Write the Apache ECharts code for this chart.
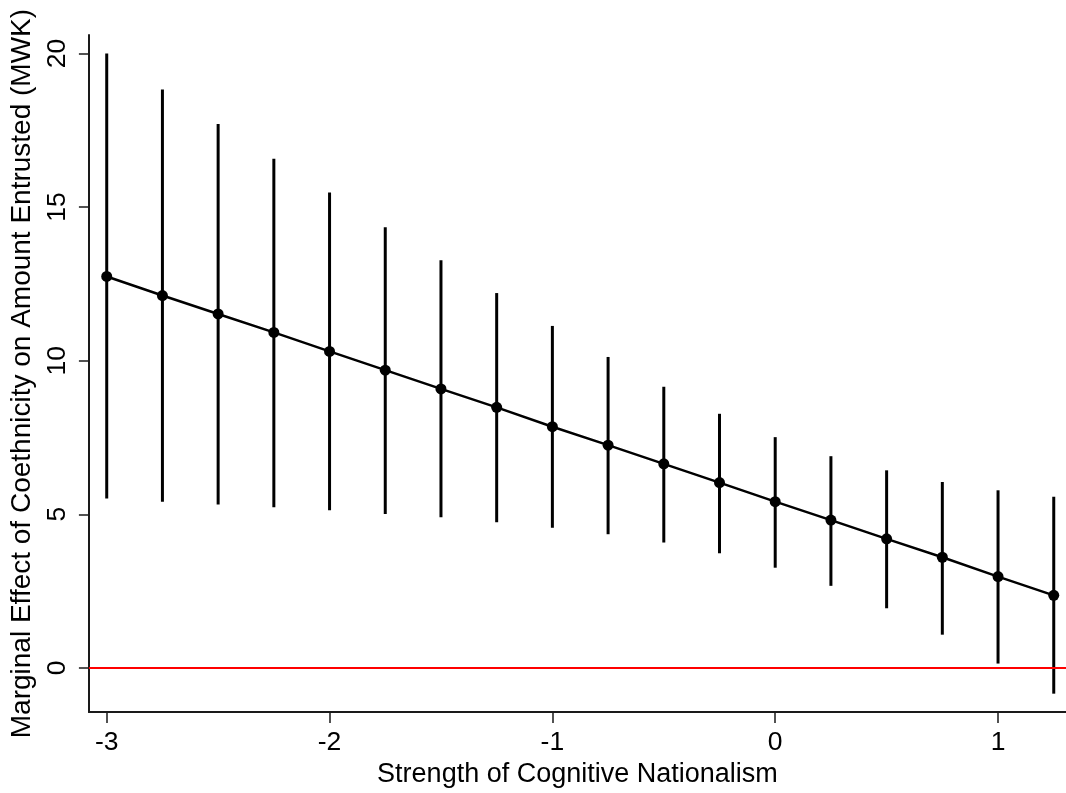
<!DOCTYPE html>
<html>
<head>
<meta charset="utf-8">
<script src="https://cdn.jsdelivr.net/npm/echarts@6/dist/echarts.min.js"></script>
<style>
html,body{margin:0;padding:0;background:#fff;}
#chart{width:1066px;height:793px;}
</style>
</head>
<body>
<div id="chart"></div>
<script>
const xValues  = [-3, -2.75, -2.5, -2.25, -2, -1.75, -1.5, -1.25, -1, -0.75, -0.5, -0.25, 0, 0.25, 0.5, 0.75, 1, 1.25];
const estimate = [12.74, 12.12, 11.52, 10.92, 10.30, 9.69, 9.08, 8.48, 7.85, 7.25, 6.64, 6.03, 5.41, 4.81, 4.20, 3.60, 2.97, 2.36];
const upper    = [20.00, 18.83, 17.70, 16.57, 15.47, 14.34, 13.27, 12.20, 11.13, 10.12, 9.15, 8.27, 7.51, 6.89, 6.43, 6.05, 5.78, 5.57];
const lower    = [5.51, 5.41, 5.32, 5.23, 5.13, 5.01, 4.90, 4.74, 4.56, 4.35, 4.08, 3.73, 3.26, 2.67, 1.94, 1.08, 0.14, -0.84];
const xTicks   = [-3, -2, -1, 0, 1];
const yTicks   = [0, 5, 10, 15, 20];
const xTitle   = 'Strength of Cognitive Nationalism';
const yTitle   = 'Marginal Effect of Coethnicity on Amount Entrusted (MWK)';

const FONT = '"Liberation Sans", Arial, Helvetica, sans-serif';
const chart = echarts.init(document.getElementById('chart'));

const ciData = xValues.map((x, i) => [x, lower[i], upper[i]]);
const pointData = xValues.map((x, i) => [x, estimate[i]]);

chart.setOption({
  animation: false,
  backgroundColor: '#ffffff',
  grid: { left: 88, right: 0, top: 35, bottom: 80, containLabel: false },
  xAxis: {
    type: 'value',
    min: -3.08, max: 1.305,
    name: xTitle,
    nameLocation: 'middle',
    nameGap: 48,
    nameTextStyle: { fontFamily: FONT, fontSize: 27, color: '#000' },
    axisLine: { show: true, onZero: false, lineStyle: { color: '#1a1a1a', width: 2 } },
    axisTick: { show: true, length: 11, customValues: xTicks, lineStyle: { color: '#1a1a1a', width: 1.5 } },
    axisLabel: { customValues: xTicks, fontFamily: FONT, fontSize: 26.5, color: '#000', margin: 17 },
    splitLine: { show: false }
  },
  yAxis: {
    type: 'value',
    min: -1.44, max: 20.6,
    name: yTitle,
    nameLocation: 'middle',
    nameGap: 52,
    nameRotate: 90,
    nameTextStyle: { fontFamily: FONT, fontSize: 28, color: '#000' },
    axisLine: { show: true, onZero: false, lineStyle: { color: '#1a1a1a', width: 2 } },
    axisTick: { show: true, length: 10, customValues: yTicks, lineStyle: { color: '#1a1a1a', width: 1.5 } },
    axisLabel: { customValues: yTicks, rotate: 90, fontFamily: FONT, fontSize: 26.5, color: '#000', margin: 18 },
    splitLine: { show: false }
  },
  series: [
    {
      type: 'line',
      data: [],
      silent: true,
      z: 1,
      markLine: {
        silent: true,
        symbol: ['none', 'none'],
        label: { show: false },
        lineStyle: { color: '#ff0000', width: 2, type: 'solid' },
        data: [{ yAxis: 0 }]
      }
    },
    {
      type: 'custom',
      z: 2,
      data: ciData,
      renderItem: function (params, api) {
        const x = api.value(0);
        const p1 = api.coord([x, api.value(1)]);
        const p2 = api.coord([x, api.value(2)]);
        return {
          type: 'line',
          shape: { x1: p1[0], y1: p1[1], x2: p2[0], y2: p2[1] },
          style: { stroke: '#000', lineWidth: 3 }
        };
      }
    },
    {
      type: 'line',
      z: 3,
      data: pointData,
      symbol: 'circle',
      symbolSize: 11,
      showAllSymbol: true,
      itemStyle: { color: '#000' },
      lineStyle: { color: '#000', width: 2.5 }
    }
  ]
});
</script>
</body>
</html>
